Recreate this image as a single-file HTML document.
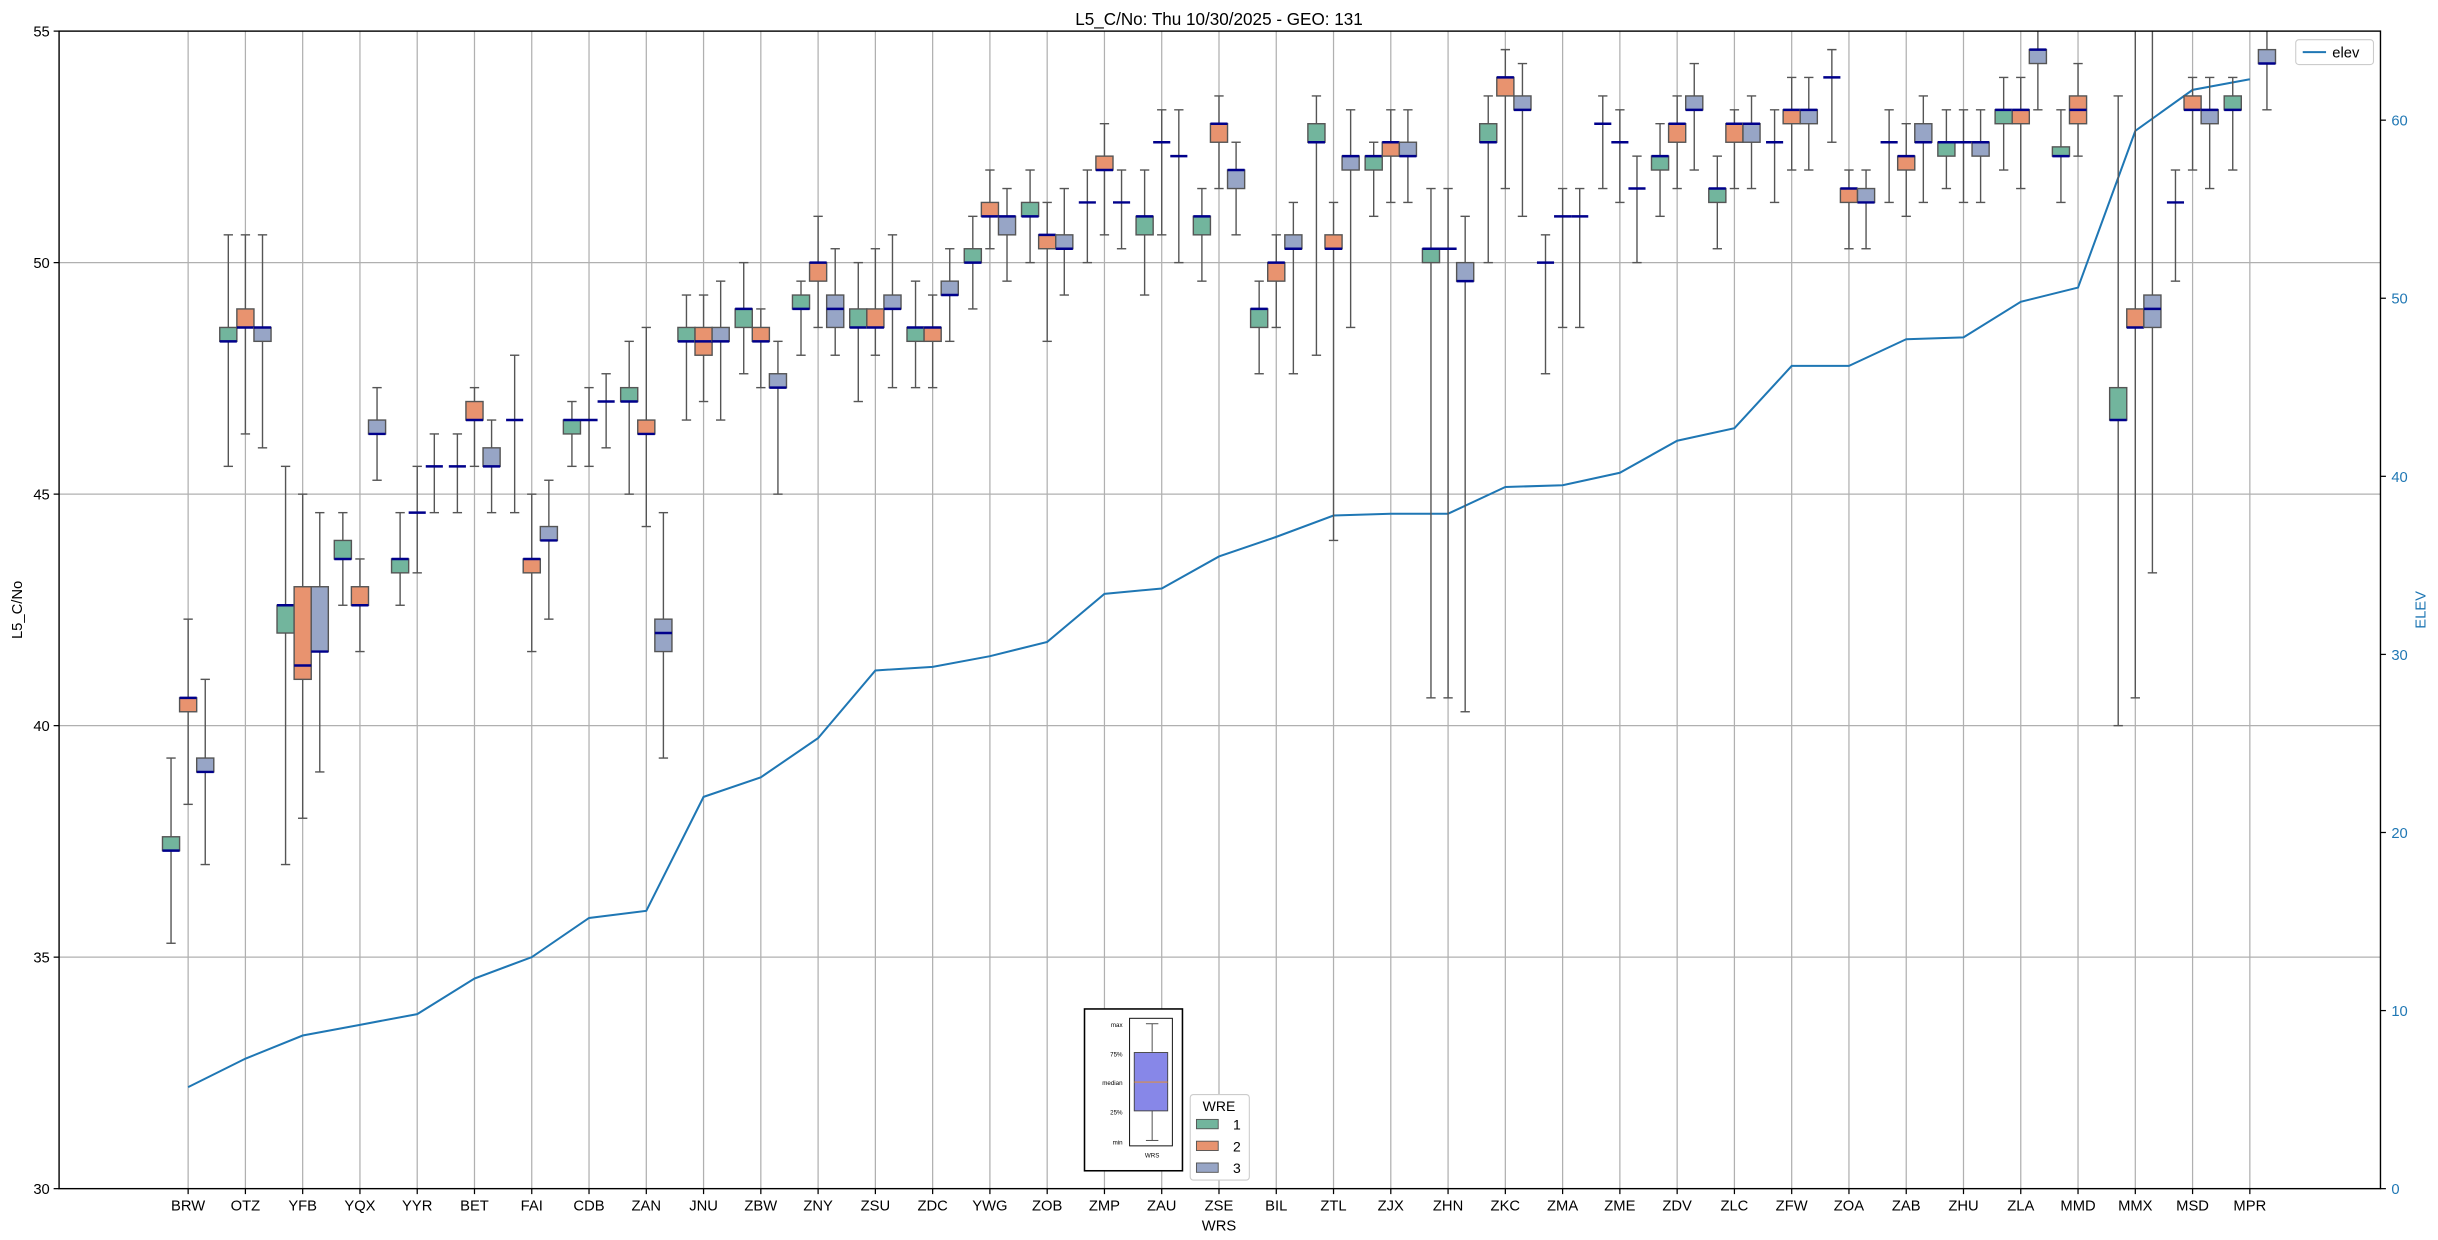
<!DOCTYPE html>
<html><head><meta charset="utf-8"><style>
html,body{margin:0;padding:0;background:#fff;}
svg{display:block;font-family:"Liberation Sans","DejaVu Sans",sans-serif;}
</style></head><body>
<svg id="chart" width="2438" height="1240" viewBox="0 0 1568 797" preserveAspectRatio="none" xmlns="http://www.w3.org/2000/svg">
<rect width="1568" height="797" fill="#fff"/>
<g id="grid"></g>
<g id="elevg"></g>
<g id="boxes"></g>
<g id="axes"></g>
<text x="784" y="16" text-anchor="middle" font-size="11">L5_C/No: Thu 10/30/2025 - GEO: 131</text>
<text x="784" y="791" text-anchor="middle" font-size="9.5">WRS</text>
<text transform="translate(14,392) rotate(-90)" text-anchor="middle" font-size="9.5">L5_C/No</text>
<text transform="translate(1560,392) rotate(-90)" text-anchor="middle" font-size="9.5" fill="#1f77b4">ELEV</text>
<g>
<rect x="1476.5" y="25.5" width="50" height="16" rx="2" fill="#fff" stroke="#ccc" stroke-width="0.7"/>
<line x1="1481" y1="33.5" x2="1496" y2="33.5" stroke="#1f77b4" stroke-width="1.3"/>
<text x="1500" y="37" font-size="9.5">elev</text>
</g>
<g>
<rect x="697.5" y="648.5" width="63" height="104" fill="#fff" stroke="#000" stroke-width="1"/>
<rect x="726.5" y="654.5" width="27.5" height="82" fill="#fff" stroke="#000" stroke-width="0.6"/>
<line x1="741" y1="658" x2="741" y2="676" stroke="#444" stroke-width="0.6"/>
<line x1="741" y1="714" x2="741" y2="733" stroke="#444" stroke-width="0.6"/>
<line x1="737" y1="658" x2="745" y2="658" stroke="#444" stroke-width="0.6"/>
<line x1="737" y1="733" x2="745" y2="733" stroke="#444" stroke-width="0.6"/>
<rect x="729.5" y="676.5" width="21.5" height="37.5" fill="#8787e8" stroke="#444" stroke-width="0.6"/>
<line x1="729.5" y1="695.5" x2="751" y2="695.5" stroke="#f0901e" stroke-width="0.6"/>
<g font-size="4" text-anchor="end">
<text x="722" y="660">max</text><text x="722" y="679">75%</text><text x="722" y="697.5">median</text><text x="722" y="716.5">25%</text><text x="722" y="735.5">min</text>
</g>
<text x="741" y="744" font-size="4" text-anchor="middle">WRS</text>
</g>
<g>
<rect x="765.5" y="703.5" width="38" height="55" rx="2" fill="#fff" stroke="#ccc" stroke-width="0.7"/>
<text x="784" y="714" font-size="9" text-anchor="middle">WRE</text>
<rect x="769.5" y="719.5" width="14" height="6" fill="#72b59d" stroke="#555" stroke-width="0.6"/>
<text x="793" y="726" font-size="9">1</text>
<rect x="769.5" y="733.5" width="14" height="6" fill="#e8936f" stroke="#555" stroke-width="0.6"/>
<text x="793" y="740" font-size="9">2</text>
<rect x="769.5" y="747.5" width="14" height="6" fill="#97a5c6" stroke="#555" stroke-width="0.6"/>
<text x="793" y="754" font-size="9">3</text>
</g>
</svg>
<script>
const categories = ["BRW","OTZ","YFB","YQX","YYR","BET","FAI","CDB","ZAN","JNU","ZBW","ZNY","ZSU","ZDC","YWG","ZOB","ZMP","ZAU","ZSE","BIL","ZTL","ZJX","ZHN","ZKC","ZMA","ZME","ZDV","ZLC","ZFW","ZOA","ZAB","ZHU","ZLA","MMD","MMX","MSD","MPR"];
const elev = [5.7,7.3,8.6,9.2,9.8,11.8,13.0,15.2,15.6,22.0,23.1,25.3,29.1,29.3,29.9,30.7,33.4,33.7,35.5,36.6,37.8,37.9,37.9,39.4,39.5,40.2,42.0,42.7,46.2,46.2,47.7,47.8,49.8,50.6,59.4,61.7,62.3];
// [whisker low, q1, median, q3, whisker high]
const wre1 = [[35.3,37.3,37.3,37.6,39.3],[45.6,48.3,48.3,48.6,50.6],[37.0,42.0,42.6,42.6,45.6],[42.6,43.6,43.6,44.0,44.6],[42.6,43.3,43.6,43.6,44.6],[44.6,45.6,45.6,45.6,46.3],[44.6,46.6,46.6,46.6,48.0],[45.6,46.3,46.6,46.6,47.0],[45.0,47.0,47.0,47.3,48.3],[46.6,48.3,48.3,48.6,49.3],[47.6,48.6,49.0,49.0,50.0],[48.0,49.0,49.0,49.3,49.6],[47.0,48.6,48.6,49.0,50.0],[47.3,48.3,48.6,48.6,49.6],[49.0,50.0,50.0,50.3,51.0],[50.0,51.0,51.0,51.3,52.0],[50.0,51.3,51.3,51.3,52.0],[49.3,50.6,51.0,51.0,52.0],[49.6,50.6,51.0,51.0,51.6],[47.6,48.6,49.0,49.0,49.6],[48.0,52.6,52.6,53.0,53.6],[51.0,52.0,52.3,52.3,52.6],[40.6,50.0,50.3,50.3,51.6],[50.0,52.6,52.6,53.0,53.6],[47.6,50.0,50.0,50.0,50.6],[51.6,53.0,53.0,53.0,53.6],[51.0,52.0,52.3,52.3,53.0],[50.3,51.3,51.6,51.6,52.3],[51.3,52.6,52.6,52.6,53.3],[52.6,54.0,54.0,54.0,54.6],[51.3,52.6,52.6,52.6,53.3],[51.6,52.3,52.6,52.6,53.3],[52.0,53.0,53.3,53.3,54.0],[51.3,52.3,52.3,52.5,53.3],[40.0,46.6,46.6,47.3,53.6],[49.6,51.3,51.3,51.3,52.0],[52.0,53.3,53.3,53.6,54.0]];
const wre2 = [[38.3,40.3,40.6,40.6,42.3],[46.3,48.6,48.6,49.0,50.6],[38.0,41.0,41.3,43.0,45.0],[41.6,42.6,42.6,43.0,43.6],[43.3,44.6,44.6,44.6,45.6],[45.6,46.6,46.6,47.0,47.3],[41.6,43.3,43.6,43.6,45.0],[45.6,46.6,46.6,46.6,47.3],[44.3,46.3,46.3,46.6,48.6],[47.0,48.0,48.3,48.6,49.3],[47.3,48.3,48.3,48.6,49.0],[48.6,49.6,50.0,50.0,51.0],[48.0,48.6,48.6,49.0,50.3],[47.3,48.3,48.6,48.6,49.3],[50.3,51.0,51.0,51.3,52.0],[48.3,50.3,50.6,50.6,51.3],[50.6,52.0,52.0,52.3,53.0],[50.6,52.6,52.6,52.6,53.3],[51.6,52.6,53.0,53.0,53.6],[48.6,49.6,50.0,50.0,50.6],[44.0,50.3,50.3,50.6,51.3],[51.3,52.3,52.6,52.6,53.3],[40.6,50.3,50.3,50.3,51.6],[51.6,53.6,54.0,54.0,54.6],[48.6,51.0,51.0,51.0,51.6],[51.3,52.6,52.6,52.6,53.3],[51.6,52.6,53.0,53.0,53.6],[51.6,52.6,53.0,53.0,53.3],[52.0,53.0,53.3,53.3,54.0],[50.3,51.3,51.6,51.6,52.0],[51.0,52.0,52.3,52.3,53.0],[51.3,52.6,52.6,52.6,53.3],[51.6,53.0,53.3,53.3,54.0],[52.3,53.0,53.3,53.6,54.3],[40.6,48.6,48.6,49.0,56],[52.0,53.3,53.3,53.6,54.0],null];
const wre3 = [[37.0,39.0,39.0,39.3,41.0],[46.0,48.3,48.6,48.6,50.6],[39.0,41.6,41.6,43.0,44.6],[45.3,46.3,46.3,46.6,47.3],[44.6,45.6,45.6,45.6,46.3],[44.6,45.6,45.6,46.0,46.6],[42.3,44.0,44.0,44.3,45.3],[46.0,47.0,47.0,47.0,47.6],[39.3,41.6,42.0,42.3,44.6],[46.6,48.3,48.3,48.6,49.6],[45.0,47.3,47.3,47.6,48.3],[48.0,48.6,49.0,49.3,50.3],[47.3,49.0,49.0,49.3,50.6],[48.3,49.3,49.3,49.6,50.3],[49.6,50.6,51.0,51.0,51.6],[49.3,50.3,50.3,50.6,51.6],[50.3,51.3,51.3,51.3,52.0],[50.0,52.3,52.3,52.3,53.3],[50.6,51.6,52.0,52.0,52.6],[47.6,50.3,50.3,50.6,51.3],[48.6,52.0,52.3,52.3,53.3],[51.3,52.3,52.3,52.6,53.3],[40.3,49.6,49.6,50.0,51.0],[51.0,53.3,53.3,53.6,54.3],[48.6,51.0,51.0,51.0,51.6],[50.0,51.6,51.6,51.6,52.3],[52.0,53.3,53.3,53.6,54.3],[51.6,52.6,53.0,53.0,53.6],[52.0,53.0,53.3,53.3,54.0],[50.3,51.3,51.3,51.6,52.0],[51.3,52.6,52.6,53.0,53.6],[51.3,52.3,52.6,52.6,53.3],[53.3,54.3,54.6,54.6,55.5],null,[43.3,48.6,49.0,49.3,56],[51.6,53.0,53.3,53.3,54.0],[53.3,54.3,54.3,54.6,55.5]];
const yTicks = [30,35,40,45,50,55];
const rTicks = [0,10,20,30,40,50,60];

const NS="http://www.w3.org/2000/svg";
const L=38,R=1531,T=20,B=764;
function xPos(i){return 121+i*36.833;}
function yL(v){return B-(v-30)/25*(B-T);}
function yR(v){return B-v/65*(B-T);}
function mk(tag,attrs,parent){const e=document.createElementNS(NS,tag);for(const k in attrs)e.setAttribute(k,attrs[k]);parent.appendChild(e);return e;}
const grid=document.getElementById('grid'),axes=document.getElementById('axes'),boxes=document.getElementById('boxes'),elevg=document.getElementById('elevg');
const svg=document.getElementById('chart');
const clip=mk('clipPath',{id:'pc'},svg);mk('rect',{x:L,y:T,width:R-L,height:B-T},clip);
boxes.setAttribute('clip-path','url(#pc)');elevg.setAttribute('clip-path','url(#pc)');

categories.forEach((c,i)=>{
  const x=xPos(i);
  const gl=mk('line',{x1:x,y1:T,x2:x,y2:B,stroke:'#b0b0b0','stroke-width':0.8},grid);
  
  
  mk('line',{x1:x,y1:B,x2:x,y2:B+3.5,stroke:'#000','stroke-width':0.8},axes);
  const t=mk('text',{x:x,y:B+14,'text-anchor':'middle','font-size':9.5},axes);
  t.textContent=c;
  
  
});
yTicks.forEach(v=>{
  const y=yL(v);
  if(v>30&&v<55){const gl=mk('line',{x1:L,y1:y,x2:R,y2:y,stroke:'#b0b0b0','stroke-width':0.8},grid);
  
  }
  mk('line',{x1:L-3.5,y1:y,x2:L,y2:y,stroke:'#000','stroke-width':0.8},axes);
  const t=mk('text',{x:L-6,y:y+3.5,'text-anchor':'end','font-size':9.5},axes);
  t.textContent=v;
  
  
});
rTicks.forEach(v=>{
  const y=yR(v);
  mk('line',{x1:R,y1:y,x2:R+3.5,y2:y,stroke:'#000','stroke-width':0.8},axes);
  const t=mk('text',{x:R+7,y:y+3.5,'font-size':9.5,fill:'#1f77b4'},axes);
  t.textContent=v;
  
  
});
mk('rect',{x:L,y:T,width:R-L,height:B-T,fill:'none',stroke:'#000','stroke-width':0.9},axes);

const groups=[[wre1,-11,'#72b59d'],[wre2,0,'#e8936f'],[wre3,11,'#97a5c6']];
groups.forEach(([data,off,col],gi)=>{
  data.forEach((s,i)=>{
    if(!s)return;
    const x=xPos(i)+off,hw=5.5;
    const g=mk('g',{},boxes);
    
    
    mk('line',{x1:x,y1:yL(s[0]),x2:x,y2:yL(s[1]),stroke:'#555','stroke-width':0.9},g);
    mk('line',{x1:x,y1:yL(s[3]),x2:x,y2:yL(s[4]),stroke:'#555','stroke-width':0.9},g);
    mk('line',{x1:x-3,y1:yL(s[0]),x2:x+3,y2:yL(s[0]),stroke:'#555','stroke-width':0.9},g);
    mk('line',{x1:x-3,y1:yL(s[4]),x2:x+3,y2:yL(s[4]),stroke:'#555','stroke-width':0.9},g);
    if(s[3]>s[1]) mk('rect',{x:x-hw,y:yL(s[3]),width:2*hw,height:yL(s[1])-yL(s[3]),fill:col,stroke:'#555','stroke-width':0.9},g);
    mk('line',{x1:x-hw,y1:yL(s[2]),x2:x+hw,y2:yL(s[2]),stroke:'#00008b','stroke-width':1.6},g);
  });
});
const pts=elev.map((v,i)=>xPos(i)+','+yR(v)).join(' ');
const pl=mk('polyline',{points:pts,fill:'none',stroke:'#1f77b4','stroke-width':1.3},elevg);


</script>
</body></html>
